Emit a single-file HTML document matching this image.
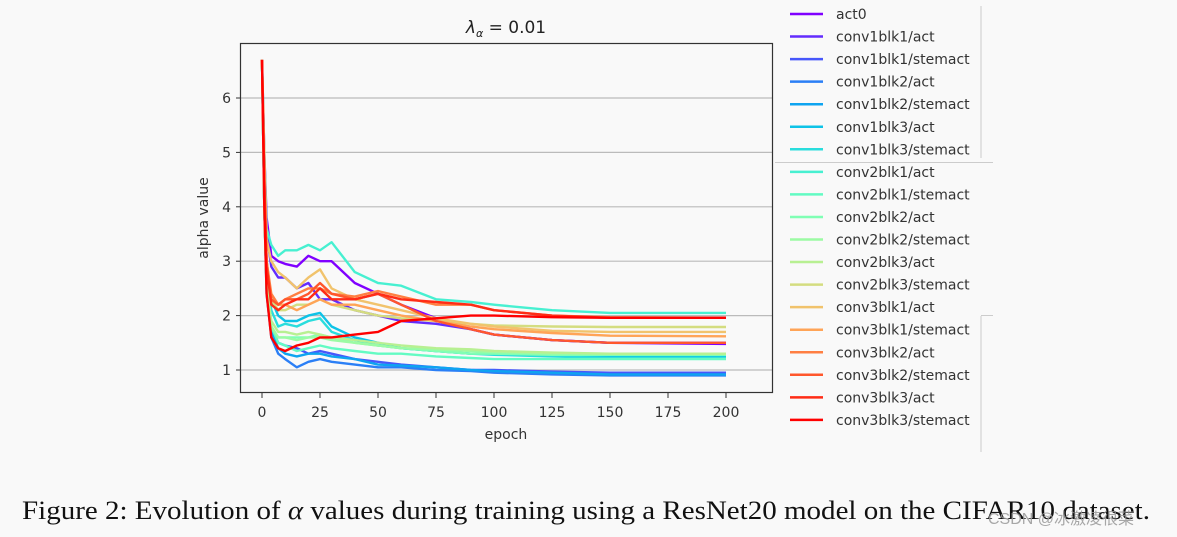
<!DOCTYPE html>
<html><head><meta charset="utf-8">
<style>
html,body{margin:0;padding:0;background:#f9f9f9;}
#wrap{position:relative;width:1177px;height:537px;overflow:hidden;background:#f9f9f9;}
svg text{font-family:"DejaVu Sans","Liberation Sans",sans-serif;}
svg text.cap{font-family:"Liberation Serif",serif;}
svg text.wm{font-family:"Liberation Sans","Noto Sans CJK SC",sans-serif;}
</style></head>
<body>
<div id="wrap">
<svg id="chart" width="1177" height="537">
<g id="grid"></g>
<g id="series"></g>
<rect x="240.5" y="43.5" width="532" height="349" fill="none" stroke="#333" stroke-width="1.2"/>
<g id="yticks"></g>
<g id="xticks"></g>
<text x="506" y="33" font-size="17" text-anchor="middle" fill="#222"><tspan font-style="italic">λ</tspan><tspan font-style="italic" font-size="11" dy="4">α</tspan><tspan dy="-4"> = 0.01</tspan></text>
<text x="506" y="439" font-size="14" text-anchor="middle" fill="#333">epoch</text>
<text transform="translate(208,218) rotate(-90)" font-size="14" text-anchor="middle" fill="#333">alpha value</text>
<g id="legend"></g>
<g stroke="#ccc" stroke-width="1" fill="none">
<path d="M981 6 V158 M775 162.5 H993 M981 316 V452 M981 315.5 H993"/>
</g>
<text class="cap" x="22" y="519" font-size="26.5" fill="#111" textLength="1128" lengthAdjust="spacingAndGlyphs">Figure 2: Evolution of <tspan font-style="italic">α</tspan> values during training using a ResNet20 model on the CIFAR10 dataset.</text>
<text class="wm" x="988" y="524" font-size="16" fill="#999" opacity="0.85">CSDN @冰激凌很菜</text>
</svg>
</div>
<script>
const epochs=[0,1,2,4,7,10,15,20,25,30,40,50,60,75,90,100,125,150,200];
const names=["act0","conv1blk1/act","conv1blk1/stemact","conv1blk2/act","conv1blk2/stemact","conv1blk3/act","conv1blk3/stemact","conv2blk1/act","conv2blk1/stemact","conv2blk2/act","conv2blk2/stemact","conv2blk3/act","conv2blk3/stemact","conv3blk1/act","conv3blk1/stemact","conv3blk2/act","conv3blk2/stemact","conv3blk3/act","conv3blk3/stemact"];
const s0=[6.7,5.0,3.8,3.1,3.0,2.95,2.9,3.1,3.0,3.0,2.6,2.4,2.2,1.95,1.75,1.65,1.55,1.5,1.48];
const s1=[6.7,4.8,3.5,2.9,2.7,2.7,2.5,2.6,2.3,2.3,2.1,2.0,1.9,1.85,1.75,1.65,1.55,1.5,1.5];
const s2=[6.7,4.0,2.5,1.8,1.5,1.45,1.4,1.3,1.35,1.3,1.2,1.15,1.1,1.05,1.0,1.0,0.97,0.95,0.95];
const s3=[6.7,4.0,2.4,1.6,1.3,1.2,1.05,1.15,1.2,1.15,1.1,1.05,1.05,1.0,0.98,0.95,0.92,0.9,0.9];
const s4=[6.7,4.0,2.5,1.7,1.4,1.3,1.25,1.3,1.3,1.25,1.2,1.1,1.08,1.05,1.0,0.98,0.95,0.92,0.92];
const s5=[6.7,4.2,3.0,2.3,2.0,1.9,1.9,2.0,2.05,1.8,1.6,1.5,1.4,1.35,1.3,1.3,1.27,1.25,1.25];
const s6=[6.7,4.2,2.8,2.1,1.8,1.85,1.8,1.9,1.95,1.7,1.55,1.45,1.4,1.35,1.3,1.28,1.25,1.22,1.22];
const s7=[6.7,5.0,3.6,3.3,3.1,3.2,3.2,3.3,3.2,3.35,2.8,2.6,2.55,2.3,2.25,2.2,2.1,2.05,2.05];
const s8=[6.7,4.0,2.5,1.8,1.5,1.45,1.35,1.4,1.45,1.4,1.35,1.3,1.3,1.25,1.22,1.2,1.2,1.2,1.2];
const s9=[6.7,4.0,2.5,1.8,1.6,1.6,1.6,1.6,1.65,1.6,1.5,1.45,1.4,1.35,1.3,1.3,1.28,1.28,1.28];
const s10=[6.7,4.0,2.5,1.8,1.6,1.6,1.55,1.6,1.6,1.55,1.5,1.45,1.4,1.38,1.35,1.33,1.3,1.3,1.3];
const s11=[6.7,4.0,2.6,1.9,1.7,1.7,1.65,1.7,1.65,1.6,1.55,1.5,1.45,1.4,1.38,1.35,1.32,1.3,1.3];
const s12=[6.7,4.5,3.0,2.3,2.1,2.1,2.2,2.2,2.3,2.2,2.1,2.0,1.95,1.9,1.85,1.82,1.8,1.79,1.79];
const s13=[6.7,5.0,3.4,3.0,2.8,2.7,2.5,2.7,2.85,2.5,2.3,2.2,2.1,1.95,1.85,1.8,1.72,1.7,1.7];
const s14=[6.7,4.5,3.0,2.3,2.2,2.2,2.1,2.2,2.3,2.2,2.2,2.1,2.0,1.9,1.8,1.75,1.68,1.63,1.62];
const s15=[6.7,4.5,3.0,2.4,2.2,2.3,2.4,2.5,2.5,2.4,2.35,2.45,2.35,2.2,2.2,2.1,2.0,1.97,1.96];
const s16=[6.7,4.4,2.9,2.3,2.2,2.3,2.3,2.4,2.6,2.4,2.3,2.4,2.2,1.9,1.75,1.65,1.55,1.5,1.5];
const s17=[6.7,4.5,2.9,2.2,2.1,2.2,2.3,2.3,2.5,2.3,2.3,2.4,2.3,2.25,2.2,2.1,2.0,1.96,1.96];
const s18=[6.7,4.0,2.4,1.6,1.4,1.35,1.45,1.5,1.6,1.6,1.65,1.7,1.9,1.95,2.0,2.0,1.97,1.96,1.96];
const seriesValues=[s0,s1,s2,s3,s4,s5,s6,s7,s8,s9,s10,s11,s12,s13,s14,s15,s16,s17,s18];
const yTicks=[1,2,3,4,5,6];
const xTicks=[0,25,50,75,100,125,150,175,200];

const NS="http://www.w3.org/2000/svg";
const X=v=>262+(v/200)*464;
const Y=v=>370-(v-1)*54.4;
function rainbow(x){
  const r=Math.min(1,Math.abs(2*x-0.5)),g=Math.sin(Math.PI*x),b=Math.cos(Math.PI*x/2);
  return `rgb(${Math.round(r*255)},${Math.round(g*255)},${Math.round(b*255)})`;
}
function mk(tag,attrs,parent){const e=document.createElementNS(NS,tag);for(const k in attrs)e.setAttribute(k,attrs[k]);parent.appendChild(e);return e;}
const grid=document.getElementById('grid'),yt=document.getElementById('yticks'),xt=document.getElementById('xticks');
yTicks.forEach(t=>{
  const l=mk('line',{x1:241,x2:772,y1:Y(t),y2:Y(t),stroke:'#bbb','stroke-width':1.2},grid);
  
  
  const tk=mk('line',{x1:236,x2:241,y1:Y(t),y2:Y(t),stroke:'#333'},yt);
  
  
  const tx=mk('text',{x:231,y:Y(t)+5,'font-size':14,'text-anchor':'end',fill:'#333'},yt);tx.textContent=t;
  
  
});
xTicks.forEach(t=>{
  const tk=mk('line',{x1:X(t),x2:X(t),y1:393,y2:398,stroke:'#333'},xt);
  
  
  const tx=mk('text',{x:X(t),y:417,'font-size':14,'text-anchor':'middle',fill:'#333'},xt);tx.textContent=t;
  
  
});
const sg=document.getElementById('series'),lg=document.getElementById('legend');
seriesValues.forEach((vals,i)=>{
  const c=rainbow(i/(seriesValues.length-1));
  const d=vals.map((v,j)=>(j?'L':'M')+X(epochs[j]).toFixed(1)+' '+Y(v).toFixed(1)).join(' ');
  const p=mk('path',{d:d,fill:'none',stroke:c,'stroke-width':2.4,'stroke-linejoin':'round'},sg);
  
  
  const ly=14+i*22.55;
  const ll=mk('line',{x1:790,x2:823,y1:ly,y2:ly,stroke:c,'stroke-width':2.5},lg);
  
  
  const lt=mk('text',{x:836,y:ly+5,'font-size':14,fill:'#333'},lg);lt.textContent=names[i];
  
  
});
</script>
</body></html>
